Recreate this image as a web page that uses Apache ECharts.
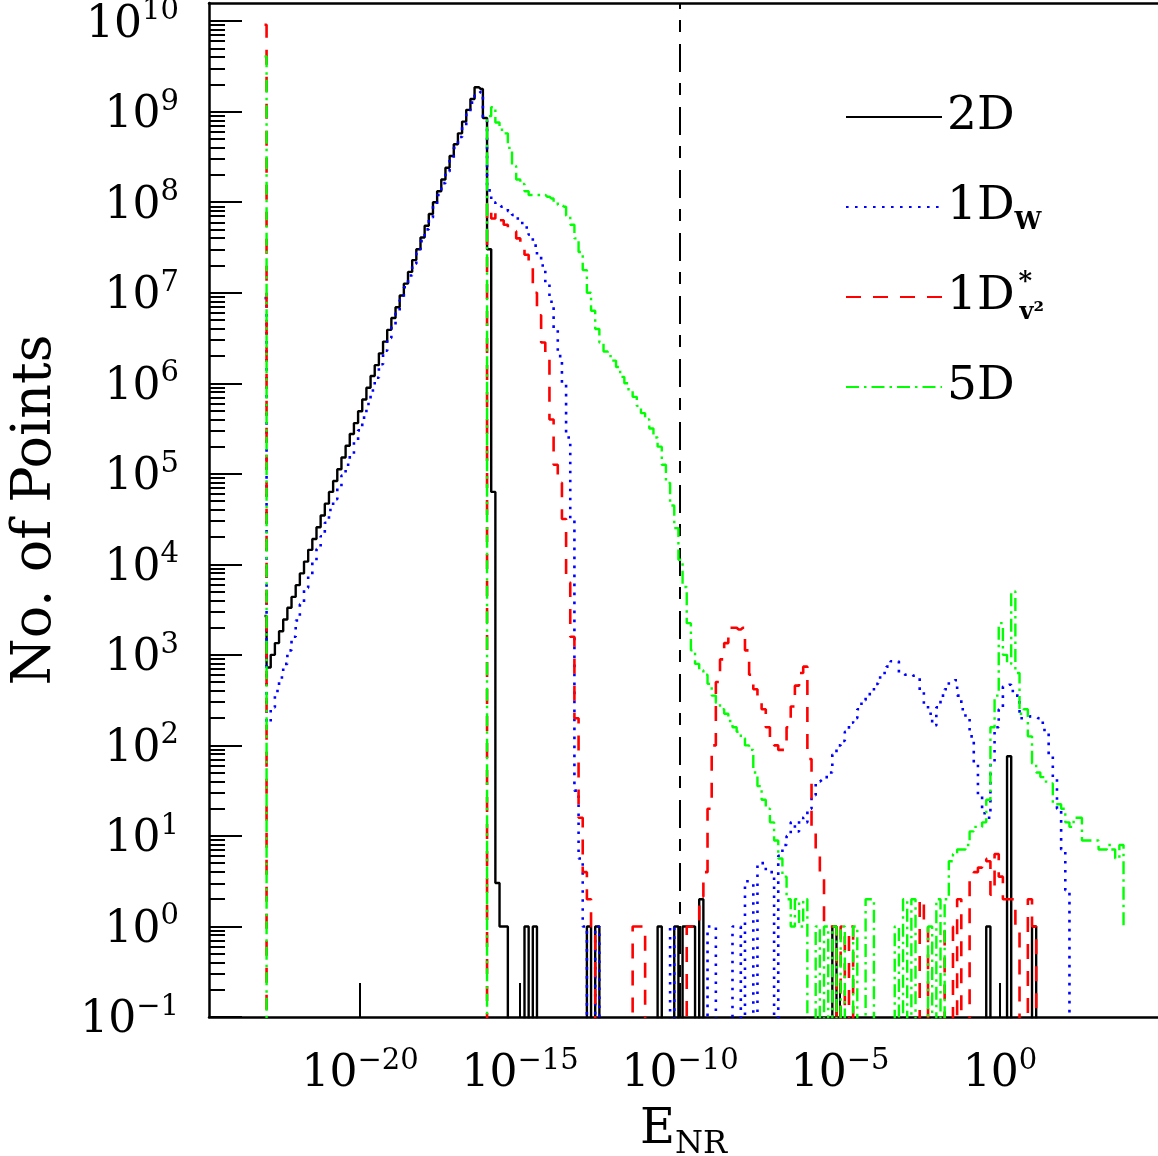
<!DOCTYPE html>
<html><head><meta charset="utf-8">
<script src="https://cdn.jsdelivr.net/npm/echarts@6/dist/echarts.min.js"></script>
<style>html,body{margin:0;padding:0;background:#fff}#c{width:1158px;height:1156px}</style>
</head><body><div id="c"></div>
<script>
// ---------- data ----------
// histogram bins: centre of bin i is log10(E_NR) = binStart + i*binWidth
const binStart = -22.986, binWidth = 0.13, binCount = 208;
const xTickValues = [-20, -15, -10, -5, 0];          // log10 E_NR
const yTickValues = [-1, 0, 1, 2, 3, 4, 5, 6, 7, 8, 9, 10]; // log10 N
const refLineE = -10;                                  // vertical reference line
const seriesNames = ['2D', '1DW', '1Dv2', '5D'];
const _ = null; // empty bin (zero points)

// values are log10(number of points), given as [first bin index, [values...]]
const counts2D = [
  [0, [3.43, 2.86, 3.0, 3.13, 3.26, 3.39, 3.52, 3.64, 3.77, 3.9,
       4.03, 4.16, 4.28, 4.41, 4.54, 4.67, 4.8, 4.92, 5.05, 5.18,
       5.31, 5.44, 5.56, 5.69, 5.82, 5.95, 6.08, 6.2, 6.33, 6.46,
       6.59, 6.72, 6.84, 6.97, 7.1, 7.23, 7.36, 7.48, 7.61, 7.74,
       7.87, 8.0, 8.12, 8.25, 8.38, 8.51, 8.64, 8.76, 8.89, 9.02,
       9.14, 9.27, 9.25, 8.93, 7.48, 4.8, 0.48, 0, 0]],
  [63, [0]], [65, [0]], [78, [0]], [80, [0]], [95, [0]], [99, [0]],
  [101, [0, 0, 0]], [105, [0.3]], [137, [0]], [174, [0]], [179, [1.88]], [185, [0]]
];
const counts1DW = [
  [0, [6.94, 2.25, 2.42, 2.6, 2.75, 2.9, 3.05, 3.2, 3.38, 3.56,
       3.74, 3.88, 4.03, 4.17, 4.31, 4.46, 4.6, 4.72, 4.85, 4.98,
       5.1, 5.22, 5.35, 5.48, 5.62, 5.77, 5.92, 6.06, 6.21, 6.36,
       6.5, 6.64, 6.78, 6.92, 7.06, 7.19, 7.32, 7.44, 7.57, 7.7,
       7.83, 7.96, 8.08, 8.21, 8.34, 8.47, 8.6, 8.72, 8.85, 8.98,
       9.1, 9.2, 9.22, 8.9, 8.13, 8.0, 7.97, 7.95, 7.93, 7.9,
       7.86, 7.82, 7.77, 7.72, 7.64, 7.52, 7.4, 7.3, 7.1, 6.9,
       6.6, 6.3, 6.0, 5.4, 4.5, 1.5, 0.75, 0]],
  [80, [0]], [98, [0]], [107, [0, 0]], [113, [0, 0]],
  [116, [0.5, 0.48, _, 0.7, 0.7, 0.6, 0.6, _, 0.78, 0.9,
         1.0, 1.15, 1.05, 1.2, 1.15, 1.3, 1.45, 1.6, 1.62, 1.65,
         1.7, 1.9, 2.0, 2.05, 2.15, 2.25, 2.3, 2.4, 2.5, 2.55,
         2.6, 2.68, 2.75, 2.8, 2.87, 2.93, 2.93, 2.8, 2.78, 2.79,
         2.77, 2.75, 2.6, 2.45, 2.35, 2.22, 2.42, 2.55, 2.62, 2.7,
         2.72, 2.55, 2.4, 2.3, 2.1, 1.8, 1.45, 1.25, 1.2, 1.8,
         2.2, 2.4, 2.65, 2.67, 2.6, 2.55, 2.3, 2.3, 2.32, 2.32,
         2.3, 2.25, 2.15, 1.9, 1.65, 1.3, 0.85, 0.4]]
];
const counts1DV2 = [
  [0, [9.96]],
  [54, [7.98, 7.82, 7.88, 7.8, 7.75, 7.72, 7.68, 7.6, 7.52, 7.42,
        7.3, 7.0, 6.75, 6.45, 6.28, 5.6, 5.1, 4.9, 4.5, 3.8,
        3.2, 2.3, 1.2, 0.6, 0.3, 0]],
  [89, [0, 0, 0]],
  [102, [0, 0, 0, 0.33, 0.6, 1.3, 2.0, 2.7, 2.95, 3.13,
         3.3, 3.3, 3.28, 3.3, 3.05, 2.78, 2.62, 2.55, 2.4, 2.2,
         2.05, 2.0, 1.95, 1.95, 2.2, 2.43, 2.66, 2.8, 2.87, 1.85,
         1.1, 0.78, 0.55, 0, 0, 0]],
  [139, [0]], [141, [0]], [158, [0.3, 0]], [164, [0, 0]], [167, [0.3]],
  [170, [0.5, 0.6, 0.65, 0.75, 0.72, 0.35, 0.8, 0.55, 0.3, 0.3, 0.3, 0]],
  [184, [0.3, 0]]
];
const counts5D = [
  [0, [9.61]],
  [54, [8.95, 9.05, 8.88, 8.8, 8.76, 8.6, 8.4, 8.25, 8.2, 8.12,
        8.08, 8.08, 8.08, 8.08, 8.06, 8.04, 8.0, 7.97, 7.95, 7.85,
        7.75, 7.6, 7.45, 7.25, 7.0, 6.8, 6.6, 6.45, 6.35, 6.3,
        6.25, 6.18, 6.07, 6.0, 5.92, 5.85, 5.75, 5.67, 5.6, 5.5,
        5.4, 5.3, 5.1, 4.9, 4.65, 4.4, 4.05, 3.75, 3.35, 3.05,
        2.9, 2.83, 2.78, 2.68, 2.55, 2.47, 2.4, 2.35, 2.27, 2.2,
        2.15, 2.08, 2.0, 1.95, 1.7, 1.55, 1.4, 1.3, 1.15, 0.95,
        0.75, 0.55, 0.3, 0, 0.3, 0, 0.3]],
  [133, [0, _, 0, _, 0, _, 0]],
  [142, [0]], [145, [0.3, 0.3]], [152, [0]], [154, [0.3, _, 0.3]], [160, [0]],
  [162, [0.3, _, 0.3, 0.72, 0.8, 0.85, 0.85, 0.9, 1.05, 1.1,
         1.1, 1.15, 1.4, 2.2, 2.55, 3.35, 3.0, 2.9, 3.7, 2.8,
         2.35, 2.4, 2.1, 1.8, 1.7, 1.65, 1.6, 1.58, 1.35, 1.35,
         1.3, 1.15, 1.1, 1.2, 1.2, 0.95, 0.95, 0.95, 0.95, 0.85,
         0.85, 0.9, 0.85, 0.75, 0.9, 0]]
];

// ---------- chart ----------
const FONT = 'DejaVu Serif';
const X_MIN = -24.72, X_MAX = 4.936, Y_MIN = -1, Y_MAX = 10.2;
const EMPTY = -3; // zero points: drawn below the axis floor, clipped
const COLORS = ['#000000', '#0000ff', '#ff0000', '#00ff00'];

function buildSeriesData(segs) {
  const v = new Array(binCount).fill(EMPTY);
  segs.forEach(([start, vals]) => vals.forEach((y, k) => { if (y !== null) v[start + k] = y; }));
  return v.map((y, i) => [binStart + i * binWidth, y]);
}
const yMinorTicks = [];
for (let n = Y_MIN; n < Y_MAX; n++) for (let k = 2; k <= 9; k++) {
  const t = n + Math.log10(k); if (t < Y_MAX) yMinorTicks.push(t);
}
const supTxt = v => String(v).replace('-', '\u2212');
const tickLabel = (margin) => ({
  margin: margin, color: '#000', fontFamily: FONT, fontSize: 44, lineHeight: 56,
  formatter: v => '10{s|' + supTxt(v) + '}',
  rich: {s: {fontFamily: FONT, fontSize: 29, lineHeight: 29, verticalAlign: 'top', color: '#000'}}
});

const chart = echarts.init(document.getElementById('c'), null, {renderer: 'canvas'});
const lineBase = {type: 'line', step: 'middle', symbol: 'none', showSymbol: false, clip: true,
  animation: false, silent: true};
chart.setOption({
  animation: false,
  backgroundColor: '#fff',
  color: COLORS,
  grid: {left: 209, top: 3, right: 0, bottom: 139, containLabel: false, outerBoundsMode: 'none'},
  xAxis: [{
    type: 'value', min: X_MIN, max: X_MAX, position: 'bottom',
    axisLine: {show: true, onZero: false, lineStyle: {color: '#000', width: 2.5}},
    axisTick: {show: true, inside: true, length: 34, customValues: xTickValues, lineStyle: {color: '#000', width: 2}},
    splitLine: {show: false},
    axisLabel: Object.assign(tickLabel(30), {customValues: xTickValues}),
    name: 'E{sub|NR}', nameLocation: 'middle', nameGap: 84, nameMoveOverlap: false,
    nameTextStyle: {color: '#000', fontFamily: FONT, fontSize: 48, lineHeight: 60,
      rich: {sub: {fontFamily: FONT, fontSize: 32, lineHeight: 22, verticalAlign: 'bottom', color: '#000'}}}
  }, {
    type: 'value', min: X_MIN, max: X_MAX, position: 'top',
    axisLine: {show: true, onZero: false, lineStyle: {color: '#000', width: 2.5}},
    axisTick: {show: false}, axisLabel: {show: false}, splitLine: {show: false}
  }],
  yAxis: [{
    type: 'value', min: Y_MIN, max: Y_MAX, position: 'left', offset: 0,
    axisLine: {show: true, onZero: false, lineStyle: {color: '#000', width: 2.5}},
    axisTick: {show: true, inside: true, length: 33, customValues: yTickValues, lineStyle: {color: '#000', width: 2.2}},
    splitLine: {show: false},
    axisLabel: Object.assign(tickLabel(30), {customValues: yTickValues, padding: [8, 0, 0, 0]}),
    name: 'No. of Points', nameLocation: 'middle', nameGap: 146, nameRotate: 90, nameMoveOverlap: false,
    nameTextStyle: {color: '#000', fontFamily: FONT, fontSize: 54}
  }, {
    type: 'value', min: Y_MIN, max: Y_MAX, position: 'left', offset: 0,
    axisLine: {show: false, onZero: false},
    axisTick: {show: true, inside: true, length: 16, customValues: yMinorTicks, lineStyle: {color: '#000', width: 2}},
    axisLabel: {show: false}, splitLine: {show: false}
  }],
  legend: {
    data: seriesNames, orient: 'vertical', left: 840, top: 84, itemWidth: 96, itemHeight: 20, itemGap: 34,
    selectedMode: false,
    itemStyle: {opacity: 0},
    textStyle: {color: '#000', fontFamily: FONT, fontSize: 47, lineHeight: 56,
      rich: {
        sub: {fontFamily: FONT, fontSize: 24, fontWeight: 'bold', lineHeight: 2, verticalAlign: 'bottom', color: '#000'},
        star: {fontFamily: FONT, fontSize: 26, fontWeight: 'bold', lineHeight: 40, verticalAlign: 'top', width: 1, align: 'left', color: '#000', padding: [0, 0, 0, 4]},
        sub2: {fontFamily: FONT, fontSize: 24, fontWeight: 'bold', lineHeight: 2, verticalAlign: 'bottom', color: '#000'}
      }},
    formatter: n => ({'2D': '2D', '1DW': '1D{sub|W}', '1Dv2': '1D{star|*}{sub2|v\u00b2}', '5D': '5D'})[n]
  },
  series: [
    Object.assign({}, lineBase, {name: seriesNames[0], data: buildSeriesData(counts2D), z: 2,
      itemStyle: {color: COLORS[0]}, lineStyle: {color: COLORS[0], width: 2.4},
      markLine: {symbol: ['none', 'none'], silent: true, animation: false, label: {show: false},
        lineStyle: {color: '#000', width: 2, type: [28, 12, 12, 11]}, data: [{xAxis: refLineE}]}}),
    Object.assign({}, lineBase, {name: seriesNames[1], data: buildSeriesData(counts1DW), z: 3,
      itemStyle: {color: COLORS[1]}, lineStyle: {color: COLORS[1], width: 2.6, type: [2.6, 6.4], cap: 'butt'}}),
    Object.assign({}, lineBase, {name: seriesNames[2], data: buildSeriesData(counts1DV2), z: 4,
      itemStyle: {color: COLORS[2]}, lineStyle: {color: COLORS[2], width: 2.6, type: [15, 12], cap: 'butt'}}),
    Object.assign({}, lineBase, {name: seriesNames[3], data: buildSeriesData(counts5D), z: 5,
      itemStyle: {color: COLORS[3]}, lineStyle: {color: COLORS[3], width: 2.4, type: [13, 5, 2.5, 5], cap: 'butt'}})
  ]
});
</script></body></html>
